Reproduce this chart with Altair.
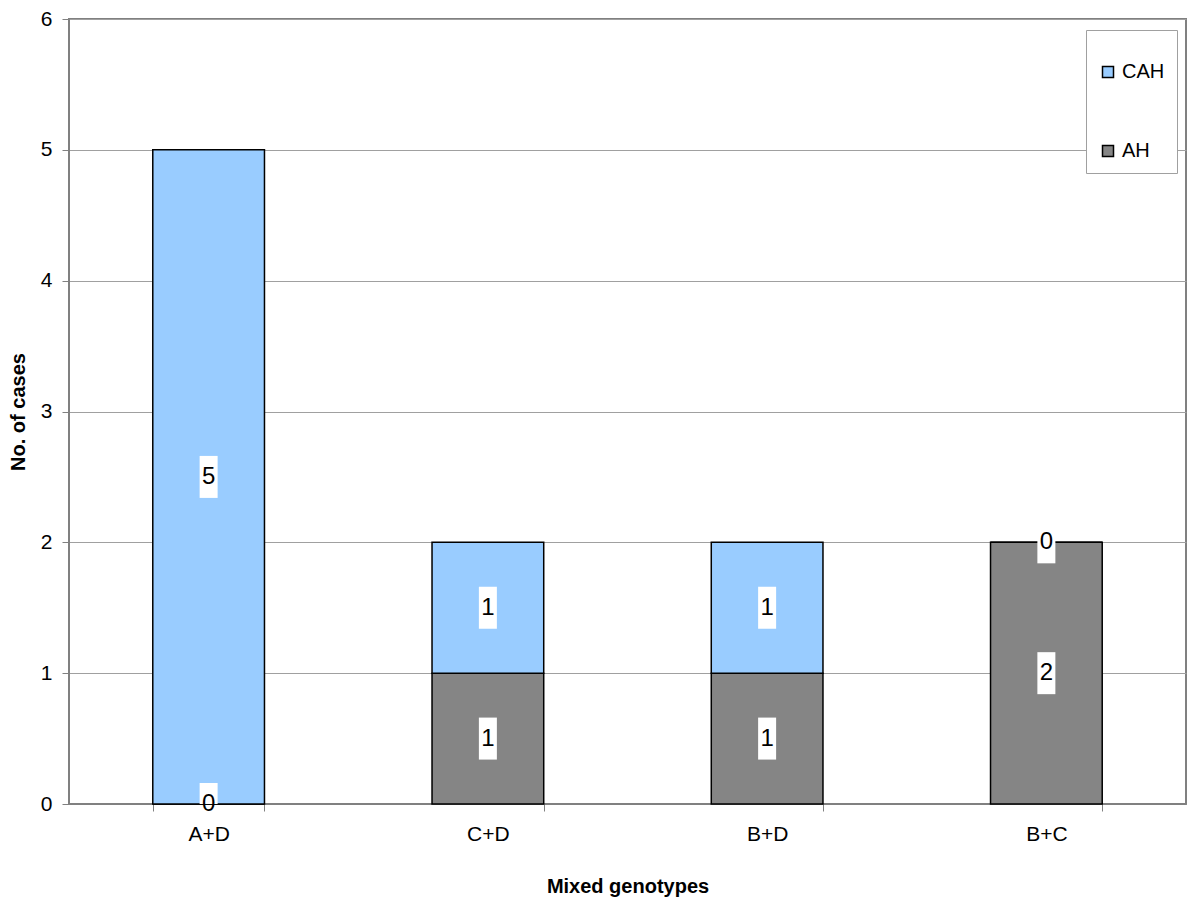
import altair as alt
import pandas as pd

categories = ["A+D", "C+D", "B+D", "B+C"]
cah_values = [5, 1, 1, 0]
ah_values = [0, 1, 1, 2]
series = ["CAH", "AH"]
colors = ["#99CCFF", "#858585"]

rows = []
for c, a, h in zip(categories, cah_values, ah_values):
    rows.append({"cat": c, "series": "AH", "value": h, "order": 0, "mid": h / 2})
    rows.append({"cat": c, "series": "CAH", "value": a, "order": 1, "mid": h + a / 2})
df = pd.DataFrame(rows)

FONT = "Liberation Sans"

x_enc = alt.X("cat:N", sort=categories, title="Mixed genotypes",
              scale=alt.Scale(paddingInner=0.6, paddingOuter=0.3),
              axis=alt.Axis(labelAngle=0, tickBand="extent", labelFontSize=21,
                            titleFontSize=20, titleFontWeight="bold", labelPadding=12,
                            titlePadding=32, domainColor="#808080", tickColor="#808080",
                            tickSize=7, labelColor="black", titleColor="black"))

y_scale = alt.Scale(domain=[0, 6])

bars = alt.Chart(df).mark_bar(stroke="black", strokeWidth=1.5).encode(
    x=x_enc,
    y=alt.Y("value:Q", stack="zero", scale=y_scale, title="No. of cases",
            axis=alt.Axis(values=[0, 1, 2, 3, 4, 5, 6], format="d", labelFontSize=21,
                          titleFontSize=20, titleFontWeight="bold", gridColor="#a0a0a0",
                          domainColor="#808080", tickColor="#808080", tickSize=7,
                          labelPadding=10, titlePadding=12,
                          labelColor="black", titleColor="black")),
    color=alt.Color("series:N", scale=alt.Scale(domain=series, range=colors),
                    legend=alt.Legend(title=" ", titleFontSize=10, titlePadding=10,
                                      orient="none", legendX=1017, legendY=11,
                                      symbolType="square", symbolSize=121,
                                      symbolStrokeColor="black", symbolStrokeWidth=1.5,
                                      labelFontSize=20, labelFont=FONT, padding=12,
                                      rowPadding=59, strokeColor="#a0a0a0", fillColor="white",
                                      labelColor="black", labelOffset=4)),
    order=alt.Order("order:Q"),
)

boxes = alt.Chart(df).mark_bar(color="white", width=18, yOffset=-21, y2Offset=21, clip=True).encode(
    x=alt.X("cat:N", sort=categories),
    y=alt.Y("mid:Q", scale=y_scale),
    y2="mid:Q",
)

labels = alt.Chart(df).mark_text(fontSize=24, font=FONT, color="black", baseline="middle").encode(
    x=alt.X("cat:N", sort=categories),
    y=alt.Y("mid:Q", scale=y_scale),
    text="value:Q",
)

chart = alt.layer(bars, boxes, labels).properties(
    width=1117, height=785,
    padding={"left": 0, "top": 0, "right": 4, "bottom": 5},
).configure(font=FONT).configure_view(stroke="#808080", strokeWidth=2).configure_axis(
    labelFont=FONT, titleFont=FONT
)

chart.save("out.html", embed_options={"renderer": "svg", "actions": False})
